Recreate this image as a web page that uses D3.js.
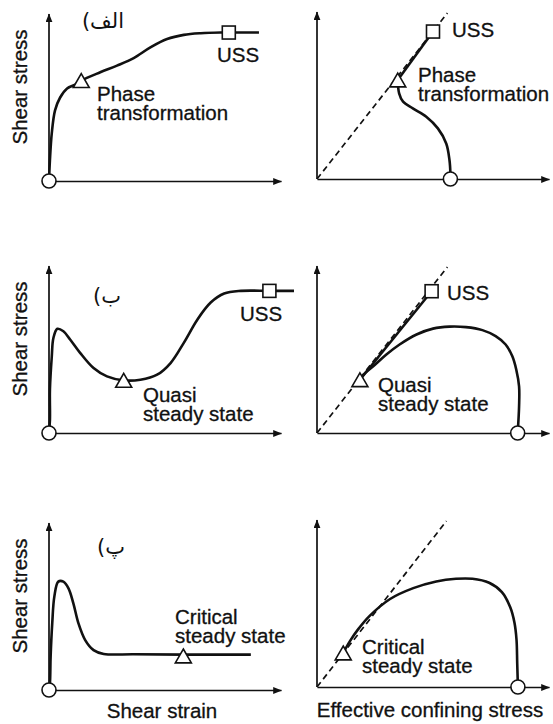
<!DOCTYPE html>
<html>
<head>
<meta charset="utf-8">
<script src="https://cdn.jsdelivr.net/npm/d3@7"></script>
<style>
  html, body { margin: 0; padding: 0; background: #fff; }
  svg { display: block; }
  .lbl { font-family: "Liberation Sans", Arial, Helvetica, sans-serif; font-size: 20.5px; fill: #111;
         stroke: #111; stroke-width: 0.3px; }
  .tag { font-family: "DejaVu Sans", "Noto Sans", sans-serif; font-size: 21px; fill: #111; }
</style>
</head>
<body>
<svg id="chart" width="553" height="724"></svg>
<script>
// ---- text ----
const panelTags = ["الف)", "ب)", "پ)"];
const yTitle = "Shear stress";
const xTitleStrain = "Shear strain";
const xTitleConfining = "Effective confining stress";

// ---- stress–strain paths (strain 0–100, shear stress 0–100) ----
const strainPathA = [[0,0],[0.4,12.5],[1.2,28.6],[2.6,42.3],[4.8,50],[7.8,55.4],[11.3,57.7],[13.9,60.1],
  [22.1,65.1],[29.3,69.1],[36.5,73.6],[43.7,80],[50.9,85],[58.1,87.5],[65.4,88.5],[74,88.9],[77.5,88.9],[90.5,88.9]];
const strainPathB = [[0,0],[0.4,7.8],[0.4,25.9],[1.2,45.8],[1.9,56.9],[3.6,62.4],[6.2,60.9],[9.1,56],[13.4,48],
  [19.2,38.9],[25,33.9],[32.2,31.5],[39.4,31.9],[46.6,34.9],[52.4,41.9],[58.1,54],[64,68],[69.7,78.1],
  [75.5,83.5],[82.7,85.1],[95,85.1],[105.6,85.1]];
const strainPathC = [[0,0],[0.4,4],[0.7,20],[1.4,40],[2.3,55.9],[4,64.9],[6.2,64.9],[8.4,60.9],[10.5,51.9],
  [12.7,39.9],[15.6,29.9],[19.2,23.9],[23.6,21.6],[36.4,21.4],[57.9,21.2],[87,21.2]];

// ---- stress paths (effective confining stress 0–100, shear stress 0–100) ----
const stressPathA = [[57.5,0],[57.5,3.4],[57.1,11.4],[55.7,21.3],[52.1,30.3],[47.1,37.3],[41.3,42.3],
  [37.1,46.3],[35.4,51.3],[34.8,59.3]];
const stressPathB = [[86.5,0],[87.1,15.9],[87.1,27.9],[85.9,37.9],[84.2,45.9],[81.3,53],[77,58],[71.3,61.6],
  [64.2,63.4],[57.1,63.7],[50,62.5],[42.9,59],[35.6,53],[29.9,47],[25.1,41],[20.8,36],[18.5,31.9]];
const stressPathC = [[86.6,0],[86.3,14.2],[86,28.3],[85.1,38.6],[83.3,47.7],[79.7,56.8],[74.2,62.4],[67,64.8],
  [59.9,64.8],[51.4,63.2],[41.5,59.2],[31.5,52.7],[22.7,42.6],[17.7,34.5],[14.2,27.5],[11.3,20.4]];

// steady-state line (dashed) end points
const steadyLineEnds = [[56.2,99.4],[56.2,99.4],[55.8,99.4]];

// marker points per panel: start circle, triangle, square (null when absent)
const startLeft = [[0,0],[0,0],[0,0]];
const startRight = [[57.5,0],[86.5,0],[86.6,0]];
const triLeft = [[13.9,60.1],[32.2,31.5],[57.9,20.4]];
const triRight = [[34.8,59.3],[18.5,31.9],[11.3,20.4]];
const ussLeft = [[77.5,88.9],[95,85.1],null];
const ussRight = [[50,88.3],[49.4,84.9],null];

// annotation texts
const labelsLeft = [["Phase","transformation"],["Quasi","steady state"],["Critical","steady state"]];
const labelsRight = [["Phase","transformation"],["Quasi","steady state"],["Critical","steady state"]];

const svg = d3.select("#chart");

// arrowhead for axis ends
svg.append("defs").append("marker")
  .attr("id", "arrow").attr("viewBox", "0 0 10 8")
  .attr("refX", 9.5).attr("refY", 4)
  .attr("markerWidth", 9).attr("markerHeight", 7)
  .attr("markerUnits", "userSpaceOnUse")
  .attr("orient", "auto")
  .append("path").attr("d", "M0,0 L10,4 L0,8 Z").attr("fill", "#111");

// panel frames: origin pixel and axis lengths
const frames = [
  {x0: 49,  y0: 181, col: 0, row: 0}, {x0: 317, y0: 179, col: 1, row: 0},
  {x0: 49,  y0: 433, col: 0, row: 1}, {x0: 317, y0: 433, col: 1, row: 1},
  {x0: 49,  y0: 690, col: 0, row: 2}, {x0: 317, y0: 687, col: 1, row: 2}
];
const W = 232, H = 167;

const line = d3.line().curve(d3.curveCatmullRom.alpha(0.5));

const labelPos = [
  [[97,101],[418,82]],
  [[143,402],[378,392]],
  [[175,624],[362,654]]
];
const ussPos = [[[217,62],[452,37]],[[240,321],[447,300]],[null,null]];
const tagPos = [[103,28],[107,303],[111,554]];

function triPath(s) {
  const h = s * Math.sqrt(3) / 2;
  return `M0,${-h/2}L${s/2},${h/2}L${-s/2},${h/2}Z`;
}

frames.forEach(f => {
  const r = f.row, c = f.col;
  const x = d3.scaleLinear().domain([0, 100]).range([f.x0, f.x0 + W]);
  const y = d3.scaleLinear().domain([0, 100]).range([f.y0, f.y0 - H]);
  const g = svg.append("g");

  // axes without ticks, arrowheads at the ends
  const ax = g.append("g").attr("transform", `translate(0,${f.y0})`)
    .call(d3.axisBottom(x).tickValues([]).tickSizeOuter(0));
  const ay = g.append("g").attr("transform", `translate(${f.x0},0)`)
    .call(d3.axisLeft(y).tickValues([]).tickSizeOuter(0));
  ay.select(".domain").attr("d", `M0,${y(0)}V${y(100)}`);
  [ax, ay].forEach(a => a.select(".domain")
    .attr("stroke", "#111").attr("stroke-width", 1.7).attr("marker-end", "url(#arrow)"));

  const toPx = d => [x(d[0]), y(d[1])];

  if (c === 0) {
    const path = [strainPathA, strainPathB, strainPathC][r];
    g.append("path").attr("d", line(path.map(toPx)))
      .attr("fill", "none").attr("stroke", "#111").attr("stroke-width", 2.6);
  } else {
    // steady-state line through the origin
    g.append("line")
      .attr("x1", x(0)).attr("y1", y(0))
      .attr("x2", x(steadyLineEnds[r][0])).attr("y2", y(steadyLineEnds[r][1]))
      .attr("stroke", "#111").attr("stroke-width", 1.7).attr("stroke-dasharray", "6,4");
    const path = [stressPathA, stressPathB, stressPathC][r];
    g.append("path").attr("d", line(path.map(toPx)))
      .attr("fill", "none").attr("stroke", "#111").attr("stroke-width", 2.6);
    if (ussRight[r]) {
      g.append("line")
        .attr("x1", x(triRight[r][0])).attr("y1", y(triRight[r][1]))
        .attr("x2", x(ussRight[r][0])).attr("y2", y(ussRight[r][1]))
        .attr("stroke", "#111").attr("stroke-width", 2.6);
    }
  }

  // markers
  const start = (c === 0 ? startLeft : startRight)[r];
  g.append("circle").attr("cx", x(start[0])).attr("cy", y(start[1])).attr("r", 7)
    .attr("fill", "#fff").attr("stroke", "#111").attr("stroke-width", 1.6);
  const tri = (c === 0 ? triLeft : triRight)[r];
  g.append("path").attr("d", triPath(16))
    .attr("transform", `translate(${x(tri[0])},${y(tri[1])})`)
    .attr("fill", "#fff").attr("stroke", "#111").attr("stroke-width", 1.6);
  const uss = (c === 0 ? ussLeft : ussRight)[r];
  if (uss) {
    g.append("rect").attr("x", x(uss[0]) - 6.5).attr("y", y(uss[1]) - 6.5)
      .attr("width", 13).attr("height", 13)
      .attr("fill", "#fff").attr("stroke", "#111").attr("stroke-width", 1.6);
    const up = ussPos[r][c];
    g.append("text").attr("class", "lbl").attr("x", up[0]).attr("y", up[1]).text("USS");
  }

  // annotation
  const lp = labelPos[r][c];
  const t = g.append("text").attr("class", "lbl").attr("x", lp[0]).attr("y", lp[1]);
  (c === 0 ? labelsLeft : labelsRight)[r].forEach((s, i) => {
    t.append("tspan").attr("x", lp[0]).attr("dy", i === 0 ? 0 : 18.5).text(s);
  });

  if (c === 0) {
    // y-axis title
    g.append("text").attr("class", "lbl")
      .attr("transform", `translate(27,${f.y0 - 94}) rotate(-90)`)
      .attr("text-anchor", "middle").text(yTitle);
    // panel tag
    g.append("text").attr("class", "tag").attr("direction", "rtl")
      .attr("text-anchor", "middle")
      .attr("x", tagPos[r][0]).attr("y", tagPos[r][1]).text(panelTags[r]);
  }
});

// x-axis titles under the bottom row
svg.append("text").attr("class", "lbl").attr("text-anchor", "middle")
  .attr("x", 162).attr("y", 718).text(xTitleStrain);
svg.append("text").attr("class", "lbl").attr("text-anchor", "middle")
  .attr("x", 430).attr("y", 717).text(xTitleConfining);
</script>
</body>
</html>
